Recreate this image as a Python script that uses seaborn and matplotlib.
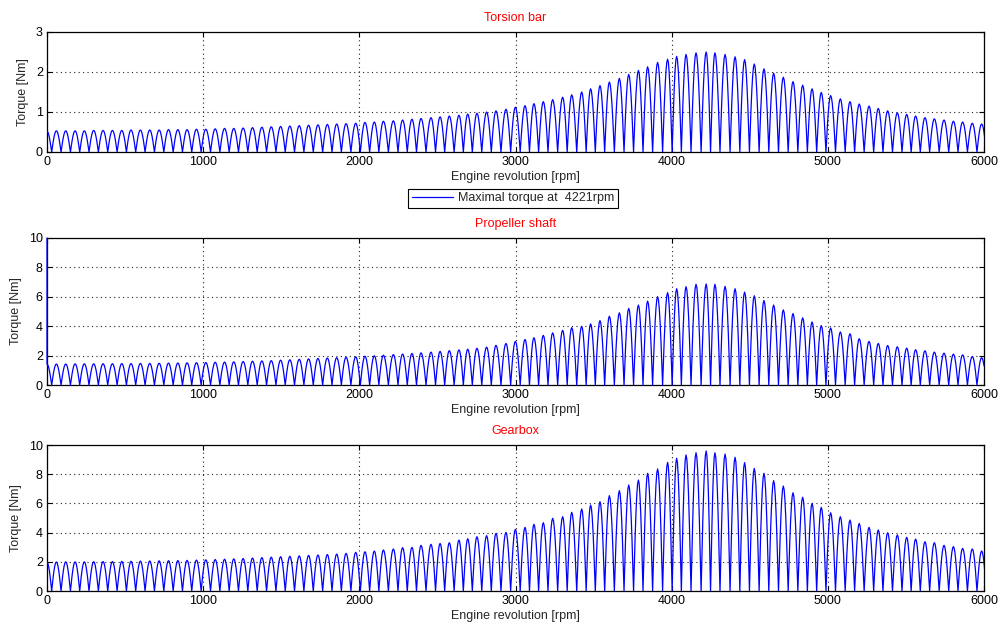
import numpy as np
import pandas as pd
import matplotlib
matplotlib.use("Agg")
import matplotlib.pyplot as plt
import seaborn as sns

# ---------------- data ----------------
rpm_ticks = [0, 1000, 2000, 3000, 4000, 5000, 6000]
torsion_yticks = [0, 1, 2, 3]
shaft_yticks = [0, 2, 4, 6, 8, 10]

# rpm position of every hump maximum (same for the three signals)
peak_rpm = [
    0, 60, 120, 180, 239, 299, 359, 419, 479, 538,
    598, 658, 718, 778, 838, 897, 957, 1017, 1077, 1137,
    1196, 1256, 1316, 1376, 1436, 1496, 1555, 1615, 1675, 1735,
    1795, 1855, 1915, 1977, 2036, 2096, 2154, 2218, 2277, 2337,
    2395, 2459, 2517, 2576, 2638, 2694, 2753, 2815, 2875, 2939,
    2999, 3061, 3118, 3178, 3238, 3302, 3360, 3424, 3481, 3541,
    3601, 3665, 3725, 3787, 3846, 3910, 3974, 4032, 4092, 4156,
    4221, 4277, 4342, 4406, 4467, 4529, 4591, 4653, 4715, 4777,
    4839, 4899, 4958, 5018, 5080, 5142, 5201, 5264, 5323, 5383,
    5445, 5505, 5562, 5622, 5682, 5744, 5804, 5863, 5925, 5985,
]

torsion_peaks = [
    0.52, 0.53, 0.53, 0.53, 0.53, 0.54, 0.54, 0.54, 0.54,
    0.55, 0.55, 0.55, 0.55, 0.56, 0.56, 0.56, 0.57,
    0.57, 0.58, 0.59, 0.59, 0.60, 0.61, 0.62, 0.63,
    0.64, 0.65, 0.66, 0.67, 0.68, 0.69,
    0.70, 0.71, 0.72, 0.74, 0.75, 0.77, 0.78, 0.80, 0.82, 0.84, 0.86, 0.88,
    0.90, 0.92, 0.95, 0.97, 1.00, 1.03,
    1.07, 1.12, 1.16, 1.21, 1.26, 1.31, 1.37, 1.43, 1.50, 1.58, 1.66, 1.75,
    1.84, 1.94, 2.04, 2.13, 2.24, 2.32, 2.39, 2.44, 2.48, 2.50, 2.48, 2.44,
    2.38, 2.31,
    2.20, 2.08, 1.97, 1.87, 1.76, 1.67, 1.58, 1.49, 1.41, 1.33, 1.26, 1.20,
    1.15, 1.09, 1.03, 0.98, 0.94, 0.90, 0.86, 0.83, 0.80, 0.77, 0.75, 0.72,
    0.70,
]

propeller_peaks = [
    1.42, 1.43, 1.43, 1.44, 1.44, 1.44, 1.45, 1.45, 1.46,
    1.46, 1.47, 1.47, 1.48, 1.49, 1.50, 1.51, 1.52,
    1.53, 1.55, 1.56, 1.58, 1.60, 1.62, 1.64, 1.66,
    1.69, 1.72, 1.75, 1.78, 1.81, 1.84,
    1.86, 1.89, 1.92, 1.96, 1.99, 2.03, 2.07, 2.11, 2.15, 2.19, 2.24, 2.29,
    2.34, 2.39, 2.44, 2.50,
    2.58, 2.70, 2.83, 2.97, 3.10, 3.22, 3.38, 3.55, 3.72, 3.90,
    3.99, 4.16, 4.38, 4.68, 4.91, 5.21, 5.44, 5.71, 6.01, 6.28, 6.55, 6.69,
    6.85, 6.87, 6.85, 6.71, 6.55, 6.32, 6.07, 5.75, 5.44, 5.11, 4.86, 4.57,
    4.29, 4.04, 3.88, 3.61, 3.49, 3.15, 2.97, 2.83, 2.69, 2.60, 2.51, 2.40,
    2.33, 2.24, 2.17, 2.10, 2.05, 1.94, 1.86,
]
propeller_start = 10.0   # value of the first sample at 0 rpm

gearbox_peaks = [
    1.98, 1.99, 2.00, 2.00, 2.00, 2.01, 2.02, 2.02, 2.03,
    2.04, 2.05, 2.06, 2.07, 2.08, 2.09, 2.10, 2.12,
    2.14, 2.16, 2.18, 2.20, 2.23, 2.26, 2.29, 2.32,
    2.35, 2.38, 2.41, 2.44, 2.47, 2.50,
    2.53, 2.58, 2.65, 2.69, 2.74, 2.81, 2.88, 2.97, 2.99, 3.13, 3.20, 3.26,
    3.31, 3.49, 3.58, 3.72, 3.79, 3.95, 4.02, 4.22, 4.36, 4.57, 4.68, 4.98,
    5.09, 5.39, 5.62, 5.89, 6.12, 6.53, 6.87, 7.26, 7.60, 8.06, 8.36, 8.81,
    9.09, 9.32, 9.47, 9.59, 9.47, 9.38, 9.16, 8.79,
    8.40, 8.06, 7.56, 7.19, 6.73, 6.42, 6.00, 5.73, 5.36, 5.09, 4.86, 4.63,
    4.36, 4.18, 3.99, 3.84, 3.68, 3.56, 3.38, 3.31, 3.13, 3.04, 2.92, 2.88,
    2.74,
]

max_rpm = 4221
titles = ["Torsion bar", "Propeller shaft", "Gearbox"]
xlabel = "Engine revolution [rpm]"
ylabel = "Torque [Nm]"
legend_label = "Maximal torque at  %drpm" % max_rpm

# shape of one rectified oscillation (style template, 0 -> 1 -> 0)
hump_profile = [0.0, 0.259, 0.5, 0.707, 0.866, 0.966, 1.0,
                0.966, 0.866, 0.707, 0.5, 0.259, 0.0]


def hump_curve(centers, peaks):
    c = np.asarray(centers, float)
    mids = (c[1:] + c[:-1]) / 2
    left = np.concatenate([[c[0] - (mids[0] - c[0])], mids])
    right = np.concatenate([mids, [c[-1] + (c[-1] - mids[-1])]])
    prof = np.asarray(hump_profile)
    h = len(prof) // 2
    xs, ys = [], []
    for i, (l, cc, r, p) in enumerate(zip(left, c, right, peaks)):
        x = np.concatenate([np.linspace(l, cc, h + 1), np.linspace(cc, r, h + 1)[1:]])
        y = p * prof
        if i > 0:
            x, y = x[1:], y[1:]
        xs.append(x)
        ys.append(y)
    return np.concatenate(xs), np.concatenate(ys)


# ---------------- figure ----------------
sns.set_theme(style="white")
plt.rcParams["font.family"] = ["Liberation Sans", "DejaVu Sans"]
plt.rcParams["font.size"] = 9
FS = 9

fig = plt.figure(figsize=(10.01, 6.30), dpi=100)
L, W = 47 / 1001, 937 / 1001
ax_top = fig.add_axes([L, 1 - 152 / 630, W, 120 / 630])
ax_mid = fig.add_axes([L, 1 - 385 / 630, W, 147 / 630])
ax_bot = fig.add_axes([L, 1 - 591 / 630, W, 146 / 630])

series = [torsion_peaks, propeller_peaks, gearbox_peaks]
ylims = [(0, 3), (0, 10), (0, 10)]
yticks = [torsion_yticks, shaft_yticks, shaft_yticks]

for i, ax in enumerate([ax_top, ax_mid, ax_bot]):
    x, y = hump_curve(peak_rpm, series[i])
    if i == 1:
        keep = (x >= 0) & (x <= 6000)
        x = np.concatenate([[0.0], x[keep]])
        y = np.concatenate([[propeller_start], y[keep]])
    df = pd.DataFrame({"rpm": x, "torque": y})
    sns.lineplot(data=df, x="rpm", y="torque", ax=ax, color="#0000FF",
                 linewidth=0.9, estimator=None, sort=False,
                 label=legend_label if i == 0 else None, legend=False)
    ax.lines[0].set_zorder(3)
    if i == 1:
        ax.lines[0].set_clip_on(False)
    ax.set_xlim(0, 6000)
    ax.set_ylim(*ylims[i])
    ax.set_xticks(rpm_ticks)
    ax.set_yticks(yticks[i])
    ax.set_xticklabels([str(t) for t in rpm_ticks])
    ax.set_yticklabels([str(t) for t in yticks[i]])
    ax.grid(True, linestyle=(0, (1, 3)), color="#222222", linewidth=0.8)
    ax.tick_params(direction="in", length=3.5, width=0.8, top=True, right=True,
                   labelsize=FS, colors="black", pad=3,
                   bottom=True, left=True)
    for s in ax.spines.values():
        s.set_visible(True)
        s.set_color("black")
        s.set_linewidth(0.9)
    ax.set_xlabel(xlabel, fontsize=FS, labelpad=2)
    ax.set_ylabel(ylabel, fontsize=FS, labelpad=5)
    ax.set_title(titles[i], color="#FF0000", fontsize=FS, pad=8)

leg = fig.legend(handles=[ax_top.lines[0]], labels=[legend_label],
                 loc="center", bbox_to_anchor=(513 / 1001, 1 - 198.5 / 630),
                 fontsize=FS, frameon=True, fancybox=False, framealpha=1,
                 edgecolor="black", handlelength=3.3, borderpad=0.3,
                 handletextpad=0.4)
leg.get_frame().set_linewidth(0.8)

fig.savefig("out.png", dpi=100)
